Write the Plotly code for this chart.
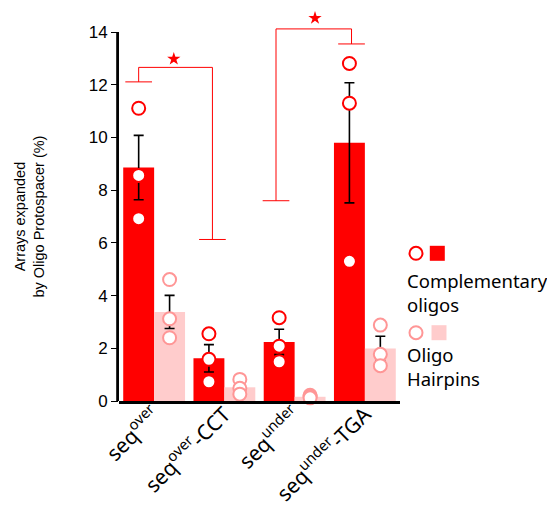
import plotly.graph_objects as go

categories = ["seq<sup>over</sup>", "seq<sup>over</sup>-CCT", "seq<sup>under</sup>", "seq<sup>under</sup>-TGA"]
comp_mean = [8.86, 1.62, 2.24, 9.80]
comp_sem = [1.22, 0.52, 0.48, 2.28]
hair_mean = [3.38, 0.52, 0.16, 1.99]
hair_sem = [0.63, 0.0, 0.0, 0.47]
comp_points = [[11.11, 8.56, 6.92], [2.55, 1.58, 0.73], [3.16, 2.08, 1.49], [12.81, 11.30, 5.30]]
hair_points = [[4.61, 3.12, 2.40], [0.82, 0.48, 0.26], [0.22, 0.17, 0.12], [2.88, 1.77, 1.34]]
y_ticks = [0, 2, 4, 6, 8, 10, 12, 14]

RED = "#FF0000"
PINK = "#FFCCCC"
PINK_EDGE = "#FF9696"
BW = 0.44
idx = list(range(len(categories)))
xr = [i - BW / 2 for i in idx]
xp = [i + BW / 2 for i in idx]

# page has an 8px body margin; layout numbers below are in figure pixels
OFF = 8
FIG_W, FIG_H = 555 - OFF, 510 - OFF
L, R, T, B = 119 - OFF, 155, 3, 109
PW = FIG_W - L - R
PH = FIG_H - T - B


def px_x(sx):
    return (sx - OFF - L) / PW


def px_y(sy):
    return (FIG_H - B - (sy - OFF)) / PH


fig = go.Figure()
fig.add_trace(go.Bar(x=xr, y=comp_mean, width=BW, marker=dict(color=RED, line=dict(width=0)),
                     error_y=dict(type="data", array=comp_sem, color="black", thickness=1.6, width=5),
                     showlegend=False))
fig.add_trace(go.Bar(x=xp, y=hair_mean, width=BW, marker=dict(color=PINK, line=dict(width=0)),
                     error_y=dict(type="data", array=hair_sem, color="black", thickness=1.6, width=5),
                     showlegend=False))

cx, cy, hx, hy = [], [], [], []
for i in idx:
    for v in comp_points[i]:
        cx.append(xr[i]); cy.append(v)
    for v in hair_points[i]:
        hx.append(xp[i]); hy.append(v)
fig.add_trace(go.Scatter(x=cx, y=cy, mode="markers", cliponaxis=False, showlegend=False,
                         marker=dict(symbol="circle", size=13, color="white", line=dict(color=RED, width=2))))
fig.add_trace(go.Scatter(x=hx, y=hy, mode="markers", cliponaxis=False, showlegend=False,
                         marker=dict(symbol="circle", size=13, color="white", line=dict(color=PINK_EDGE, width=2))))

# significance brackets: (left x, left y, right x, right y, top y, star x, star y)
brackets = [
    (-0.22, 12.11, 0.83, 6.13, 12.66, 0.28, 12.98),
    (1.735, 7.60, 2.81, 13.55, 14.12, 2.29, 14.53),
]
CAP = 0.19
for (lx, ly, rx, ry, ty, sx, sy) in brackets:
    line = dict(color=RED, width=1)
    fig.add_shape(type="line", x0=lx, x1=lx, y0=ly, y1=ty, line=line)
    fig.add_shape(type="line", x0=rx, x1=rx, y0=ry, y1=ty, line=line)
    fig.add_shape(type="line", x0=lx, x1=rx, y0=ty, y1=ty, line=line)
    fig.add_shape(type="line", x0=lx - CAP, x1=lx + CAP, y0=ly, y1=ly, line=line)
    fig.add_shape(type="line", x0=rx - CAP, x1=rx + CAP, y0=ry, y1=ry, line=line)
star_x = [b[5] for b in brackets]
star_y = [b[6] for b in brackets]
fig.add_trace(go.Scatter(x=star_x, y=star_y, mode="markers", cliponaxis=False, showlegend=False,
                         marker=dict(symbol="star", size=10, color=RED, line=dict(width=0))))

# y axis line from 0 to 14
fig.add_shape(type="line", xref="paper", yref="y", x0=-0.005, x1=-0.005, y0=-0.05, y1=14,
              line=dict(color="black", width=2.8))


# custom legend
def legend_item(ypx, edge, fill, sq_x, text, text_ypx):
    ypap = px_y(ypx)
    fig.add_shape(type="circle", xref="paper", yref="paper", xsizemode="pixel", ysizemode="pixel",
                  xanchor=px_x(416), yanchor=ypap, x0=-6.5, x1=6.5, y0=-6.5, y1=6.5,
                  line=dict(color=edge, width=2), fillcolor="white")
    fig.add_shape(type="rect", xref="paper", yref="paper", xsizemode="pixel", ysizemode="pixel",
                  xanchor=px_x(sq_x), yanchor=ypap, x0=-7.5, x1=7.5, y0=-7.5, y1=7.5,
                  line=dict(width=0), fillcolor=fill)
    fig.add_annotation(xref="paper", yref="paper", x=px_x(405), y=px_y(text_ypx),
                       xanchor="left", yanchor="middle", align="left", showarrow=False, text=text,
                       font=dict(family="Noto Sans", size=18.5, color="black"))


legend_item(253.3, RED, RED, 437.3, "Complementary<br>oligos", 292)
legend_item(332.7, PINK_EDGE, PINK, 439, "Oligo<br>Hairpins", 366)

fig.add_annotation(xref="paper", yref="y", x=px_x(30), y=7, textangle=-90, showarrow=False,
                   text="Arrays expanded<br>by Oligo Protospacer (%)", xanchor="center", yanchor="middle",
                   font=dict(family="Liberation Sans", size=14.5, color="black"))

fig.update_layout(
    width=FIG_W, height=FIG_H,
    margin=dict(l=L, r=R, t=T, b=B, autoexpand=False),
    paper_bgcolor="white", plot_bgcolor="white",
    barmode="overlay",
    showlegend=False,
    xaxis=dict(range=[-0.5, 3.5], tickmode="array", tickvals=idx, ticktext=categories,
               tickangle=-45, showline=True, linecolor="black", linewidth=3, ticks="",
               showgrid=False, zeroline=False, automargin=False, ticklabelstandoff=-10,
               tickfont=dict(family="Noto Sans", size=21, color="black")),
    yaxis=dict(range=[0, 14.8], tickmode="array", tickvals=y_ticks, ticks="outside", ticklen=7,
               tickwidth=1.3, tickcolor="black", showline=False, showgrid=False, zeroline=False,
               automargin=False,
               tickfont=dict(family="Liberation Sans", size=17, color="black")),
)

fig.write_html("out.html")
